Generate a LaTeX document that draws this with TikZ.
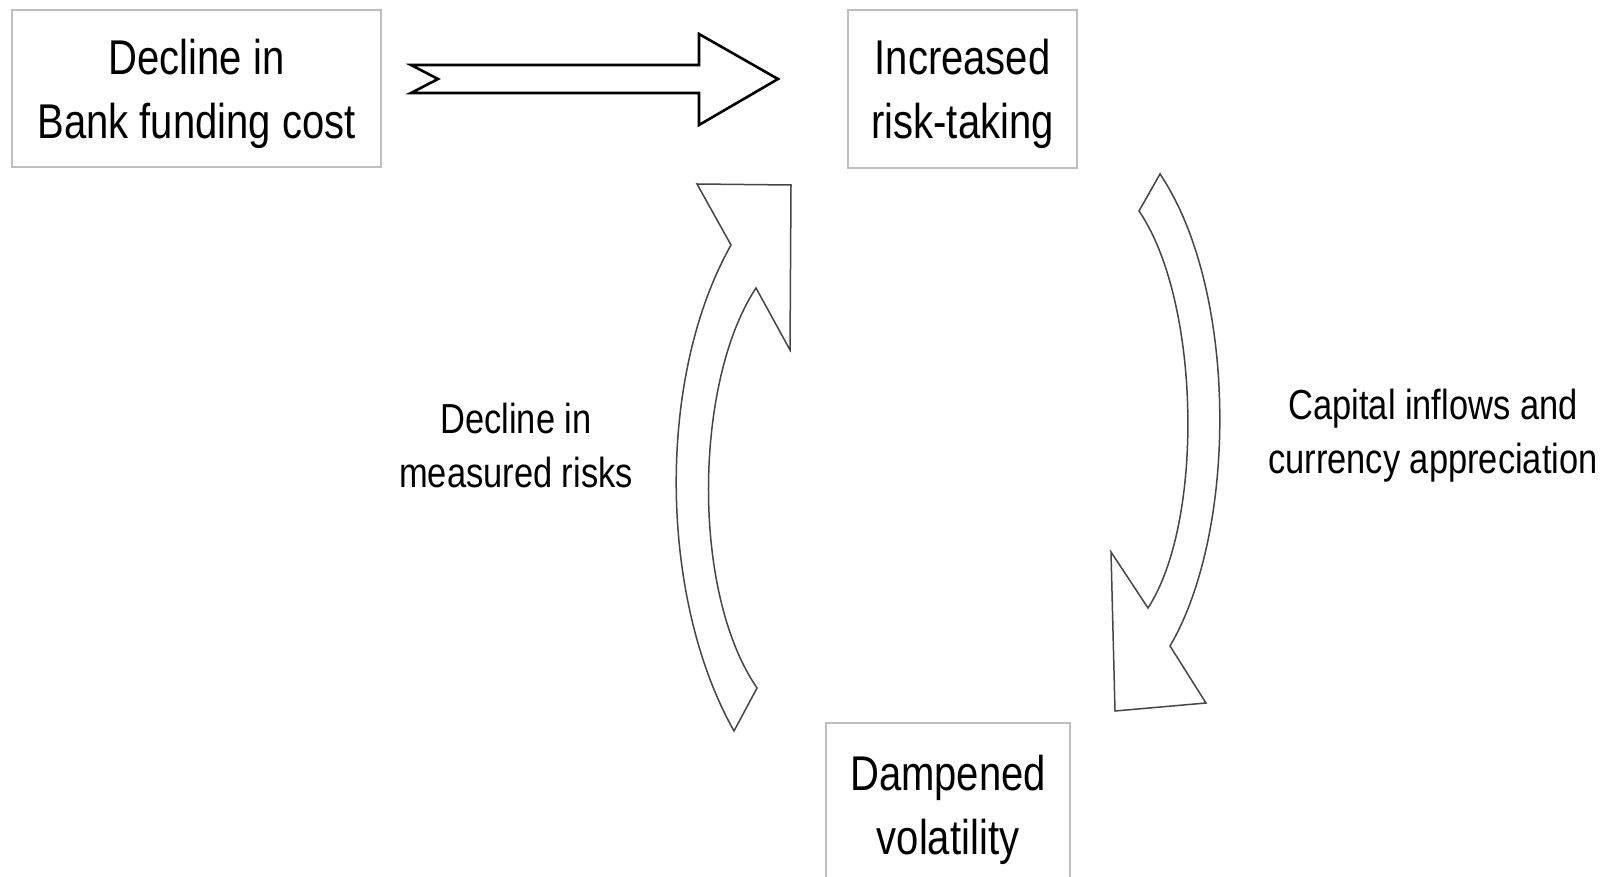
\documentclass[tikz,border=0pt]{standalone}
\usepackage{fontspec}
\setmainfont{Liberation Sans}[FakeStretch=0.82]
\definecolor{boxgray}{RGB}{190,190,190}
\definecolor{arrgray}{RGB}{70,70,70}

\begin{document}
\begin{tikzpicture}[
    x=0.5pt, y=-0.5pt,
    box/.style={draw=boxgray, line width=1pt, align=center, inner sep=0pt, text depth=0pt, font=\fontsize{24.4}{32}\selectfont},
    lbl/.style={align=center, inner sep=0pt, font=\fontsize{21}{27}\selectfont},
    blk/.style={draw=black, line width=1.3pt, fill=white, line join=miter},
    curv/.style={draw=arrgray, line width=0.75pt, fill=white, line join=miter}
  ]
    \useasboundingbox (0,0) rectangle (1611,877);
    \clip (0,0) rectangle (1611,877);
    \fill[white] (0,0) rectangle (1611,877);
    \node[box, minimum width=184.5pt, minimum height=78.5pt] (bank) at (196.5,88.5) {Decline in\\Bank funding cost};
    \node[box, minimum width=114.5pt, minimum height=79pt] (risk) at (962.5,89) {Increased\\risk-taking};
    \node[box, minimum width=122pt, minimum height=82pt] (vol) at (948,805) {Dampened\\volatility};
    \node[lbl] (meas) at (516,445) {Decline in\\measured risks};
    \node[lbl] (cap) at (1433,436) {Capital inflows and\\currency appreciation};
    \draw[blk] (411,65) -- (438,79) -- (411,93) -- (699,93) -- (699,125) -- (778,79) -- (699,34) -- (699,65) -- cycle;
    \draw[curv] (734,731) .. controls (660,600) and (655,380) .. (731,245)
      -- (697,184) -- (791,185) -- (790,350) -- (756,288)
      .. controls (695,380) and (690,590) .. (757,688) -- cycle;
    \draw[curv] (1160,174) .. controls (1238,290) and (1238,530) .. (1170,646)
      -- (1206,703) -- (1115,711) -- (1111,552) -- (1148,608)
      .. controls (1205,520) and (1200,300) .. (1139,211) -- cycle;
  \end{tikzpicture}
\end{document}
